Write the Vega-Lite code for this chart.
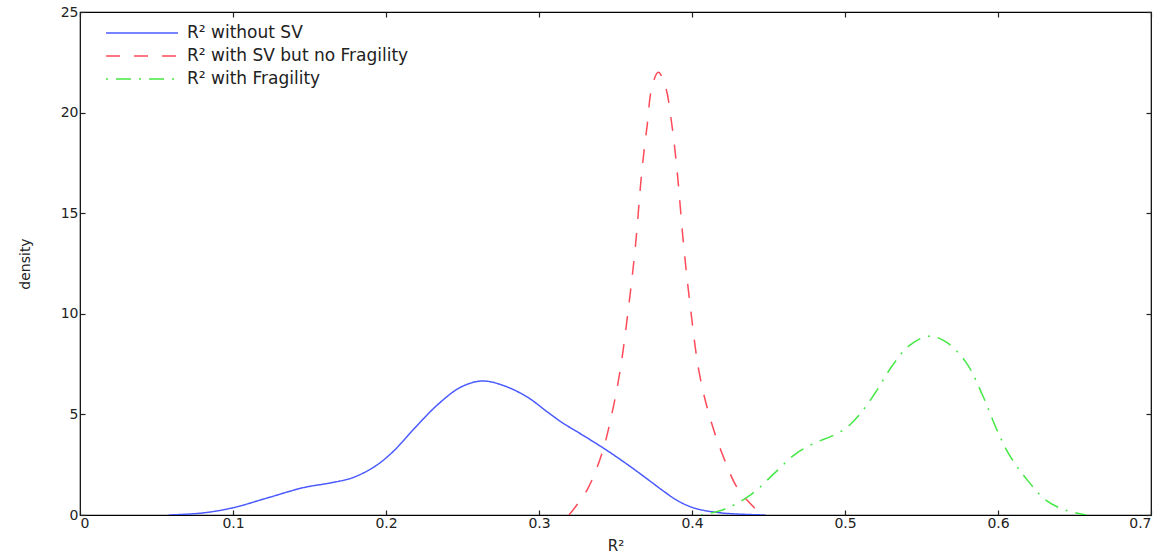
{
  "$schema": "https://vega.github.io/schema/vega-lite/v6.json",
  "width": 1071,
  "height": 503,
  "autosize": "none",
  "padding": {"left": 80, "top": 12, "right": 15, "bottom": 44},
  "background": "white",
  "config": {
    "view": {"stroke": "black", "strokeWidth": 1.2},
    "font": "DejaVu Sans",
    "axis": {
      "domain": false,
      "grid": false,
      "tickColor": "#222",
      "tickSize": -5,
      "tickWidth": 1.2,
      "labelColor": "#222",
      "labelFont": "DejaVu Sans",
      "labelFontSize": 14,
      "titleFont": "DejaVu Sans",
      "titleFontSize": 14,
      "titleFontWeight": "normal",
      "titleColor": "#222"
    },
    "legend": {
      "labelFont": "DejaVu Sans",
      "labelFontSize": 17,
      "labelColor": "#222",
      "labelLimit": 0
    }
  },
  "data": {
    "values": [
      {"series": "R² without SV", "r2": 0.058, "density": 0},
      {"series": "R² without SV", "r2": 0.08, "density": 0.1},
      {"series": "R² without SV", "r2": 0.1, "density": 0.36},
      {"series": "R² without SV", "r2": 0.123, "density": 0.86},
      {"series": "R² without SV", "r2": 0.146, "density": 1.36},
      {"series": "R² without SV", "r2": 0.164, "density": 1.6},
      {"series": "R² without SV", "r2": 0.178, "density": 1.85},
      {"series": "R² without SV", "r2": 0.193, "density": 2.43},
      {"series": "R² without SV", "r2": 0.205, "density": 3.18},
      {"series": "R² without SV", "r2": 0.219, "density": 4.34},
      {"series": "R² without SV", "r2": 0.234, "density": 5.5},
      {"series": "R² without SV", "r2": 0.249, "density": 6.36},
      {"series": "R² without SV", "r2": 0.263, "density": 6.66},
      {"series": "R² without SV", "r2": 0.278, "density": 6.4},
      {"series": "R² without SV", "r2": 0.293, "density": 5.83},
      {"series": "R² without SV", "r2": 0.305, "density": 5.15},
      {"series": "R² without SV", "r2": 0.315, "density": 4.6},
      {"series": "R² without SV", "r2": 0.329, "density": 3.95},
      {"series": "R² without SV", "r2": 0.343, "density": 3.28},
      {"series": "R² without SV", "r2": 0.358, "density": 2.5},
      {"series": "R² without SV", "r2": 0.372, "density": 1.72},
      {"series": "R² without SV", "r2": 0.3815, "density": 1.18},
      {"series": "R² without SV", "r2": 0.3913, "density": 0.68},
      {"series": "R² without SV", "r2": 0.4022, "density": 0.33},
      {"series": "R² without SV", "r2": 0.4196, "density": 0.1},
      {"series": "R² without SV", "r2": 0.448, "density": 0},
      {"series": "R² with SV but no Fragility", "r2": 0.3196, "density": 0},
      {"series": "R² with SV but no Fragility", "r2": 0.3314, "density": 1.24},
      {"series": "R² with SV but no Fragility", "r2": 0.3412, "density": 3.07},
      {"series": "R² with SV but no Fragility", "r2": 0.3477, "density": 5.06},
      {"series": "R² with SV but no Fragility", "r2": 0.3531, "density": 7.21},
      {"series": "R² with SV but no Fragility", "r2": 0.3586, "density": 10.36},
      {"series": "R² with SV but no Fragility", "r2": 0.363, "density": 13.35},
      {"series": "R² with SV but no Fragility", "r2": 0.3673, "density": 17.16},
      {"series": "R² with SV but no Fragility", "r2": 0.3706, "density": 19.3},
      {"series": "R² with SV but no Fragility", "r2": 0.3739, "density": 21.3},
      {"series": "R² with SV but no Fragility", "r2": 0.378, "density": 22.0},
      {"series": "R² with SV but no Fragility", "r2": 0.3826, "density": 21.3},
      {"series": "R² with SV but no Fragility", "r2": 0.387, "density": 19.3},
      {"series": "R² with SV but no Fragility", "r2": 0.3902, "density": 17.16},
      {"series": "R² with SV but no Fragility", "r2": 0.3946, "density": 13.35},
      {"series": "R² with SV but no Fragility", "r2": 0.3989, "density": 10.36},
      {"series": "R² with SV but no Fragility", "r2": 0.4044, "density": 7.21},
      {"series": "R² with SV but no Fragility", "r2": 0.4109, "density": 5.06},
      {"series": "R² with SV but no Fragility", "r2": 0.4196, "density": 3.07},
      {"series": "R² with SV but no Fragility", "r2": 0.4305, "density": 1.24},
      {"series": "R² with SV but no Fragility", "r2": 0.4458, "density": 0},
      {"series": "R² with Fragility", "r2": 0.406, "density": 0},
      {"series": "R² with Fragility", "r2": 0.4217, "density": 0.3},
      {"series": "R² with Fragility", "r2": 0.439, "density": 1.04},
      {"series": "R² with Fragility", "r2": 0.4545, "density": 2.12},
      {"series": "R² with Fragility", "r2": 0.4676, "density": 3.03},
      {"series": "R² with Fragility", "r2": 0.4807, "density": 3.6},
      {"series": "R² with Fragility", "r2": 0.4895, "density": 3.86},
      {"series": "R² with Fragility", "r2": 0.5, "density": 4.28},
      {"series": "R² with Fragility", "r2": 0.509, "density": 4.94},
      {"series": "R² with Fragility", "r2": 0.52, "density": 6.1},
      {"series": "R² with Fragility", "r2": 0.531, "density": 7.43},
      {"series": "R² with Fragility", "r2": 0.542, "density": 8.42},
      {"series": "R² with Fragility", "r2": 0.555, "density": 8.89},
      {"series": "R² with Fragility", "r2": 0.566, "density": 8.6},
      {"series": "R² with Fragility", "r2": 0.579, "density": 7.6},
      {"series": "R² with Fragility", "r2": 0.59, "density": 5.94},
      {"series": "R² with Fragility", "r2": 0.599, "density": 4.28},
      {"series": "R² with Fragility", "r2": 0.6077, "density": 2.95},
      {"series": "R² with Fragility", "r2": 0.6186, "density": 1.79},
      {"series": "R² with Fragility", "r2": 0.6317, "density": 0.71},
      {"series": "R² with Fragility", "r2": 0.6449, "density": 0.22},
      {"series": "R² with Fragility", "r2": 0.658, "density": 0}
    ]
  },
  "layer": [
    {
      "mark": {"type": "line", "strokeWidth": 1.5, "interpolate": "catmull-rom", "clip": true},
      "encoding": {
        "x": {
          "field": "r2", "type": "quantitative",
          "scale": {"domain": [0, 0.7], "nice": false},
          "axis": {
            "orient": "bottom",
            "values": [0, 0.1, 0.2, 0.3, 0.4, 0.5, 0.6, 0.7],
            "labelExpr": "datum.value == 0 ? '0' : format(datum.value, '.1f')",
            "labelPadding": 6,
            "title": "R²",
            "titleFontSize": 15,
            "titlePadding": 8
          }
        },
        "y": {
          "field": "density", "type": "quantitative",
          "scale": {"domain": [0, 25], "nice": false},
          "axis": {
            "orient": "left",
            "values": [0, 5, 10, 15, 20, 25],
            "labelPadding": 7,
            "title": "density",
            "titlePadding": 28
          }
        },
        "color": {
          "field": "series", "type": "nominal",
          "scale": {
            "domain": ["R² without SV", "R² with SV but no Fragility", "R² with Fragility"],
            "range": ["#4a5aff", "#ff4a5a", "#44e844"]
          },
          "legend": {
            "title": null,
            "orient": "none",
            "legendX": 50,
            "legendY": 9,
            "padding": 0,
            "symbolType": "M-3.27,0H3.27",
            "symbolSize": 484,
            "symbolStrokeWidth": 1.5,
            "labelOffset": 33,
            "rowPadding": 3
          }
        },
        "strokeDash": {
          "field": "series", "type": "nominal",
          "scale": {
            "domain": ["R² without SV", "R² with SV but no Fragility", "R² with Fragility"],
            "range": [[1, 0], [14, 14], [2, 8, 15, 8]]
          },
          "legend": {
            "title": null,
            "orient": "none",
            "legendX": 50,
            "legendY": 9,
            "padding": 0,
            "symbolType": "M-3.27,0H3.27",
            "symbolSize": 484,
            "symbolStrokeWidth": 1.5,
            "labelOffset": 33,
            "rowPadding": 3
          }
        }
      }
    },
    {
      "mark": {"type": "line", "opacity": 0},
      "encoding": {
        "detail": {"field": "series"},
        "x": {
          "field": "r2", "type": "quantitative",
          "axis": {"orient": "top", "values": [0, 0.1, 0.2, 0.3, 0.4, 0.5, 0.6, 0.7], "labels": false, "title": null}
        },
        "y": {
          "field": "density", "type": "quantitative",
          "axis": {"orient": "right", "values": [0, 5, 10, 15, 20, 25], "labels": false, "title": null}
        }
      }
    }
  ],
  "resolve": {"axis": {"x": "independent", "y": "independent"}}
}
